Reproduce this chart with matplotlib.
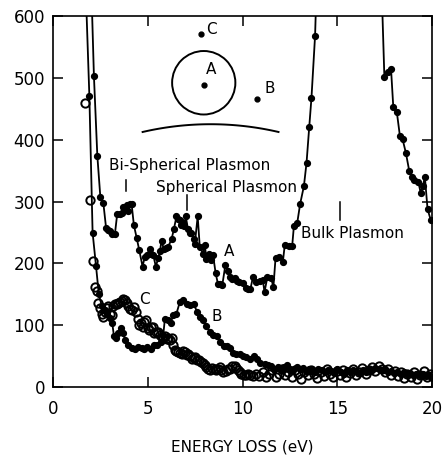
import numpy as np
import matplotlib
matplotlib.use("Agg")
import matplotlib.pyplot as plt
from matplotlib.patches import Ellipse

nan = np.nan

# spectrum A (filled dots, line) - runs off the top around the bulk plasmon
a_energy = [2.0, 2.14, 2.32, 2.48, 2.64, 2.78, 2.9, 3.0, 3.1, 3.25, 3.37, 3.5, 3.6, 3.7,
            3.78, 3.87, 3.95, 4.05, 4.13, 4.25, 4.4, 4.53, 4.71, 4.82, 4.92, 5.09, 5.18,
            5.27, 5.41, 5.53, 5.63, 5.71, 5.83, 5.95, 6.06, 6.24, 6.36, 6.5, 6.6, 6.68,
            6.75, 6.82, 6.9, 6.99, 7.11, 7.2, 7.29, 7.4, 7.47, 7.62, 7.73, 7.9, 8.0, 8.08,
            8.22, 8.32, 8.43, 8.57, 8.69, 8.8, 8.92, 9.08, 9.22, 9.34, 9.45, 9.57, 9.7,
            9.8, 10.01, 10.19, 10.3, 10.4, 10.54, 10.71, 10.89, 11.06, 11.15, 11.3, 11.5,
            11.62, 11.73, 11.94, 12.12, 12.22, 12.43, 12.61, 12.7, 12.88, 13.03, 13.23,
            13.37, 13.51, 13.63, 13.82, 13.9, nan,
            17.33, 17.48, 17.65, 17.83, 17.95, 18.14, 18.3, 18.44, 18.62, 18.79, 18.93,
            19.06, 19.27, 19.4, 19.5, 19.62, 19.76, 19.93]
a_counts = [650, 503, 374, 307, 297, 258, 254, 252, 248, 248, 280, 280, 281, 292, 287,
            294, 284, 296, 296, 262, 241, 222, 195, 210, 213, 223, 215, 214, 195, 208,
            220, 237, 223, 225, 227, 239, 255, 276, 272, 270, 262, 265, 260, 276, 255,
            250, 249, 240, 232, 276, 227, 216, 230, 207, 216, 205, 214, 184, 167, 166,
            165, 197, 188, 178, 175, 176, 172, 170, 169, 160, 159, 158, 178, 170, 172,
            173, 154, 178, 176, 162, 208, 211, 203, 230, 228, 228, 260, 266, 296, 325,
            363, 420, 468, 568, 650, nan,
            650, 501, 510, 515, 453, 444, 406, 401, 378, 350, 339, 335, 332, 314, 325,
            339, 288, 270]

# spectrum B (filled dots, line)
b_energy = [1.7, 1.9, 2.07, 2.25, 2.4, 2.55, 2.7, 2.85, 2.99, 3.11, 3.2, 3.3, 3.43, 3.55,
            3.67, 3.8, 3.95, 4.13, 4.3, 4.48, 4.66, 4.8, 4.95, 5.13, 5.31, 5.48, 5.66,
            5.8, 5.89, 6.03, 6.19, 6.32, 6.5, 6.68, 6.85, 7.03, 7.2, 7.41, 7.59, 7.73,
            7.9, 8.08, 8.26, 8.43, 8.64, 8.78, 8.99, 9.17, 9.31, 9.48, 9.66, 9.84, 10.01,
            10.19, 10.4, 10.57, 10.75, 10.93, 11.15, 11.33,
            11.5, 11.67, 11.84, 12.0, 12.17, 12.34, 12.5, 12.67, 12.84, 13.0, 13.17,
            13.34, 13.5, 13.67, 13.84, 14.0, 14.17, 14.34, 14.5, 14.67, 14.84, 15.0,
            15.17, 15.34, 15.5, 15.67, 15.84, 16.0, 16.17, 16.34, 16.5, 16.67, 16.84,
            17.0, 17.17, 17.34, 17.5, 17.67, 17.84, 18.0, 18.17, 18.34, 18.5, 18.67,
            18.84, 19.0, 19.17, 19.34, 19.5, 19.67, 19.84, 20.0]
b_counts = [650, 470, 250, 196, 150, 132, 124, 118, 112, 103, 82, 79, 88, 95, 88, 76, 68,
            64, 61, 65, 63, 62, 65, 61, 68, 68, 73, 84, 111, 108, 103, 116, 119, 138, 141,
            135, 133, 134, 122, 114, 108, 99, 89, 84, 83, 73, 67, 66, 63, 56, 54, 53, 51,
            49, 45, 50, 45, 39, 38, 36,
            35, 30, 33, 28, 32, 36, 30, 27, 33, 29, 31, 26, 30, 28, 25, 29, 27, 24, 28,
            26, 23, 30, 25, 22, 27, 24, 28, 26, 23, 27, 25, 30, 28, 31, 29, 27, 30, 25,
            26, 23, 25, 22, 24, 21, 23, 20, 22, 19, 21, 18, 20, 17]

# spectrum C (open circles, no line)
c_energy = [1.67, 1.93, 2.11, 2.2, 2.28, 2.37, 2.46, 2.55, 2.63, 2.72, 2.81, 2.9, 2.99,
            3.08, 3.16, 3.25, 3.34, 3.43, 3.51, 3.6, 3.69, 3.78, 3.87, 3.96, 4.04, 4.13,
            4.25, 4.35, 4.45, 4.53, 4.62, 4.71, 4.8, 4.88, 4.97, 5.06, 5.15, 5.24, 5.33,
            5.42, 5.53, 5.62, 5.71, 5.8, 5.89, 5.98, 6.06, 6.15, 6.24, 6.33, 6.41, 6.5,
            6.59, 6.68, 6.77, 6.86, 6.94, 7.03, 7.11, 7.2, 7.3, 7.4, 7.5, 7.6, 7.69, 7.8,
            7.9, 8.0, 8.08, 8.18, 8.29, 8.4, 8.52, 8.6, 8.69, 8.78, 8.87, 8.98, 9.1, 9.2,
            9.31, 9.44, 9.57, 9.66, 9.75, 9.84, 9.93, 10.06, 10.19, 10.3, 10.4, 10.55,
            10.71, 10.88, 11.05, 11.22, 11.39, 11.56, 11.73, 11.9, 12.07, 12.24, 12.41,
            12.58, 12.75, 12.92, 13.09, 13.26, 13.43, 13.6, 13.77, 13.94, 14.11, 14.28,
            14.45, 14.62, 14.79, 14.96, 15.13, 15.3, 15.47, 15.64, 15.81, 15.98, 16.15,
            16.32, 16.49, 16.66, 16.83, 17.0, 17.17, 17.34, 17.51, 17.68, 17.85, 18.02,
            18.19, 18.36, 18.53, 18.7, 18.87, 19.04, 19.21, 19.38, 19.55, 19.72, 19.89,
            20.0]
c_counts = [460, 302, 204, 162, 156, 136, 128, 118, 114, 122, 128, 131, 118, 116, 132,
            134, 135, 136, 138, 140, 143, 141, 136, 132, 127, 124, 130, 122, 110, 100,
            103, 98, 105, 108, 95, 92, 97, 98, 88, 90, 89, 85, 81, 80, 83, 78, 79, 76, 79,
            68, 60, 58, 57, 55, 54, 58, 57, 52, 54, 50, 46, 48, 49, 44, 44, 40, 39, 36, 33,
            30, 28, 31, 30, 27, 30, 32, 28, 25, 26, 29, 30, 34, 34, 31, 28, 24, 22, 20, 19,
            21, 20, 18, 22, 18, 25, 16, 22, 28, 17, 21, 30, 19, 24, 16, 27, 21, 14, 25, 19,
            28, 22, 15, 24, 18, 29, 21, 16, 26, 20, 27, 17, 23, 29, 19, 25, 31, 22, 28, 33,
            26, 35, 30, 24, 29, 20, 26, 18, 24, 15, 22, 17, 25, 14, 20, 26, 16, 22, 18]

x_ticks = [0, 5, 10, 15, 20]
y_ticks = [0, 100, 200, 300, 400, 500, 600]

plt.rcParams['font.family'] = ['DejaVu Sans']

fig = plt.figure(figsize=(4.45, 4.55), dpi=100)
ax = fig.add_axes([0.12, 0.149, 0.851, 0.816])

ax.plot(a_energy, a_counts, color='black', lw=1.3, marker='o', ms=4.2, zorder=3)
ax.plot(b_energy, b_counts, color='black', lw=1.3, marker='o', ms=4.2, zorder=3)
ax.plot(c_energy, c_counts, linestyle='none', marker='o', ms=6, mfc='none',
        mec='black', mew=1.4, zorder=2)

ax.set_xlim(0, 20)
ax.set_ylim(0, 600)
ax.set_xticks(x_ticks)
ax.set_yticks(y_ticks)
ax.tick_params(direction='in', length=7, width=1.1, top=True, right=True,
               labelsize=12)
ax.tick_params(axis='x', pad=9)
ax.tick_params(axis='y', pad=6)
for s in ax.spines.values():
    s.set_linewidth(1.2)
ax.set_xlabel('ENERGY LOSS (eV)', fontsize=11, labelpad=16)

# schematic: sphere, surface and probe positions
ax.add_patch(Ellipse((7.94, 492), 3.34, 102.6, fill=False, lw=1.4, color='black'))
t = np.deg2rad(np.linspace(-13, 13, 60))
ax.plot(8.3 + 15.95 * np.sin(t), -65 + 490 * np.cos(t), color='black', lw=1.4)
ax.plot([7.94, 10.77, 7.82], [489, 466, 570], 'o', color='black', ms=3.5)
ax.text(8.35, 513, 'A', fontsize=11, ha='center', va='center')
ax.text(11.42, 483, 'B', fontsize=11, ha='center', va='center')
ax.text(8.35, 578, 'C', fontsize=11, ha='center', va='center')

# plasmon labels
ax.text(2.95, 359, 'Bi-Spherical Plasmon', fontsize=11, ha='left', va='center')
ax.plot([3.83, 3.83], [317, 335], color='black', lw=1.1)
ax.text(5.42, 322, 'Spherical Plasmon', fontsize=11, ha='left', va='center')
ax.plot([7.06, 7.06], [286, 310], color='black', lw=1.1)
ax.text(13.1, 249, 'Bulk Plasmon', fontsize=11, ha='left', va='center')
ax.plot([15.14, 15.14], [270, 300], color='black', lw=1.1)

ax.text(9.27, 219, 'A', fontsize=11, ha='center', va='center')
ax.text(8.64, 114, 'B', fontsize=11, ha='center', va='center')
ax.text(4.83, 142, 'C', fontsize=11, ha='center', va='center')

fig.savefig('out.png', dpi=100)
